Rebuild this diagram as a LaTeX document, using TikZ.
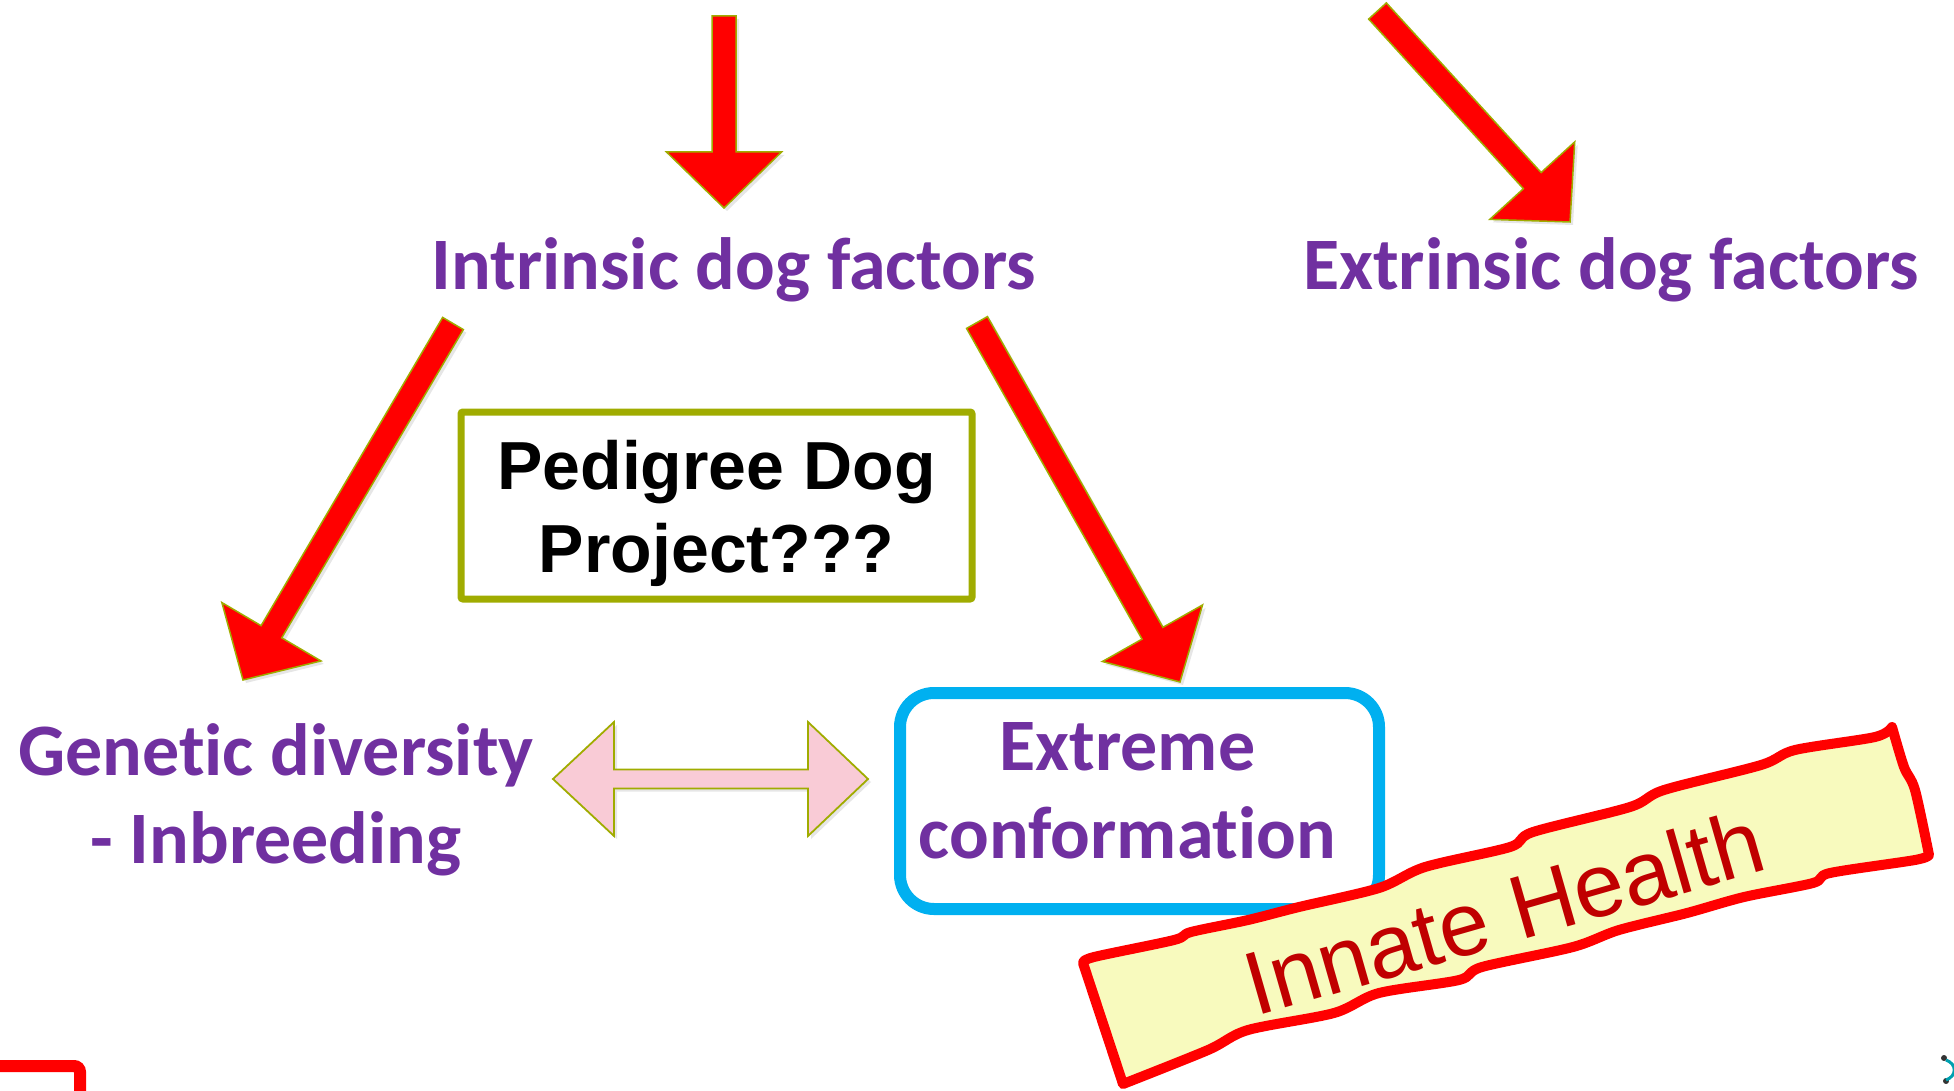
\documentclass[tikz,border=0pt]{standalone}
\usepackage{fontspec}
\setmainfont{Carlito}[Ligatures={TeX,NoCommon}]
\newfontfamily\arialfont{Liberation Sans}
\usetikzlibrary{calc}
\usetikzlibrary{shadows}
\definecolor{factorpurple}{RGB}{112,48,160}
\definecolor{arrowred}{RGB}{255,0,0}
\definecolor{arrowolive}{RGB}{160,172,0}
\definecolor{boxcyan}{RGB}{0,176,240}
\definecolor{pinkfill}{RGB}{249,203,214}
\definecolor{bannerfill}{RGB}{248,250,190}
\definecolor{healthred}{RGB}{192,0,0}
\definecolor{logoteal}{RGB}{0,160,176}
\newcommand{\factorfont}{\fontsize{37}{44}\selectfont\bfseries}
\newcommand{\pedfont}{\arialfont\fontsize{34}{41.5}\selectfont\bfseries}
\newcommand{\healthfont}{\arialfont\fontsize{45}{50}\selectfont}
\newcommand{\blockarrow}[2]{%
	\coordinate (ba) at ($(#2)!28pt!(#1)$);
	\draw[redarrow] ($(#1)!6pt!90:(#2)$) -- ($(ba)!6pt!90:(#2)$) -- ($(ba)!28.75pt!90:(#2)$) -- (#2)
		-- ($(ba)!28.75pt!-90:(#2)$) -- ($(ba)!6pt!-90:(#2)$) -- ($(#1)!6pt!-90:(#2)$) -- cycle;}

\begin{document}
\begin{tikzpicture}[x=0.5pt, y=-0.5pt,
		redarrow/.style={fill=arrowred, draw=arrowolive, line width=0.75pt,
			drop shadow={opacity=0.2, shadow xshift=1.5pt, shadow yshift=-1.5pt}},
		pinkarrow/.style={fill=pinkfill, draw=arrowolive, line width=0.9pt,
			drop shadow={opacity=0.2, shadow xshift=1.5pt, shadow yshift=-1.5pt}},
		factor/.style={text=factorpurple, font=\factorfont, align=center, inner sep=0pt},
		banner/.style={fill=bannerfill, draw=arrowred, line width=5pt, line join=round}]
		\useasboundingbox (0,0) rectangle (1954,1091);
		\clip (0,0) rectangle (1954,1091);
		
		\draw (734,290) node[factor, anchor=base] (intr) {Intrinsic dog factors};
		\draw (1611,290) node[factor, anchor=base] (extr) {Extrinsic dog factors};
		\draw (276,800) node[factor] (genetic) {Genetic diversity\\- Inbreeding};
		\draw (716.5,505.5) node[draw=arrowolive, line width=3.5pt, rounded corners=1pt,
			minimum width=255.5pt, minimum height=93.5pt] (pedigree) {};
		\draw (716.5,513) node[font=\pedfont, align=center, inner sep=0pt] (pedtext) {Pedigree Dog\\Project???};
		\draw (1139.5,801) node[draw=boxcyan, fill=white, line width=6pt, rounded corners=17pt,
			minimum width=239.5pt, minimum height=108pt,
			drop shadow={opacity=0.2, shadow xshift=1.5pt, shadow yshift=-1.5pt}] (extreme) {};
		\draw (1127.5,791) node[factor] (extremetext) {Extreme\\conformation};
		
		\coordinate (intr-tail) at (724,16);
		\coordinate (intr-tip) at (724,208);
		\coordinate (extr-tail) at (1377.5,11);
		\coordinate (extr-tip) at (1570,222);
		\coordinate (gen-tail) at (453,323.5);
		\coordinate (gen-tip) at (243,680);
		\coordinate (ext-tail) at (977,322.5);
		\coordinate (ext-tip) at (1180,682);
		\blockarrow{intr-tail}{intr-tip}
		\blockarrow{extr-tail}{extr-tip}
		\blockarrow{gen-tail}{gen-tip}
		\blockarrow{ext-tail}{ext-tip}
		
		\coordinate (dl) at (553,779);
		\coordinate (dr) at (868,779);
		\draw[pinkarrow] (dl) -- ++(61,-57) -- ++(0,47.5) -- ($(dr)+(-60,-9.5)$) -- ++(0,-47.5) -- (dr)
			-- ++(-60,57) -- ++(0,-47.5) -- ($(dl)+(61,9.5)$) -- ++(0,47.5) -- cycle;
		
		\draw[banner] (1083,963) -- plot[smooth, tension=0.5] coordinates {(1083,963) (1094,957) (1174,940) (1191,932)
			(1248,920) (1299,907) (1379,888) (1425,867) (1510,847) (1533,832) (1630,807) (1664,790)
			(1761,765) (1795,750) (1875,737) (1892,727)}
			-- plot[smooth] coordinates {(1892,727) (1904,767) (1915,790) (1929,855)}
			-- plot[smooth, tension=0.5] coordinates {(1929,855) (1915,860) (1830,873) (1813,883) (1744,897)
			(1687,913) (1619,930) (1573,947) (1482,967) (1459,980) (1379,993) (1334,1013) (1248,1030)
			(1208,1050) (1123,1084)} -- cycle;
		\draw (1504,912) node[rotate=16, text=healthred, font=\healthfont, inner sep=0pt] (innate) {Innate Health};
		
		\draw[arrowred, line width=6pt, rounded corners=3pt] (-60,1066) rectangle (80,1160);
		\fill[black!80] (1944,1058) circle (3) (1946,1081) circle (3);
		\draw[logoteal, line width=1.5pt] (1946,1060) .. controls (1957,1064) and (1957,1076) .. (1946,1080);
	\end{tikzpicture}
\end{document}
